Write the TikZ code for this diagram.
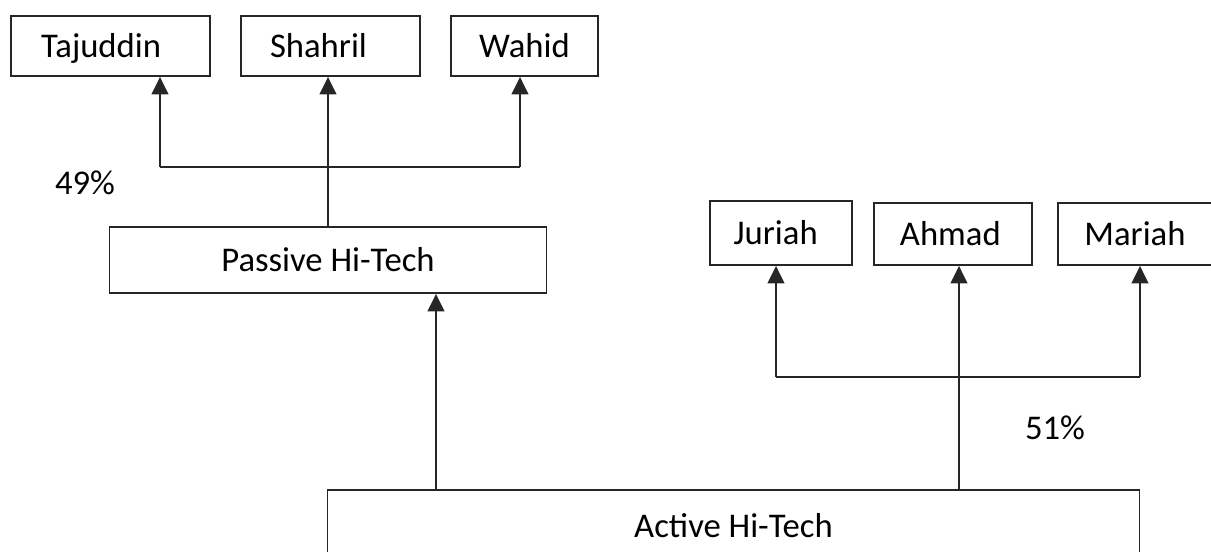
\documentclass[tikz,border=0pt]{standalone}
\usepackage{fontspec}
\setmainfont{Carlito}
\usetikzlibrary{arrows.meta}
\begin{document}
\begin{tikzpicture}[x=0.75pt,y=-0.75pt,
  font=\fontsize{26}{30}\selectfont,
  box/.style={draw=black!85, line width=1.4pt, inner sep=0pt, anchor=center,
              text height=18pt, text depth=0pt},
  link/.style={draw=black!85, line width=1.4pt},
  uparrow/.style={link, -{Triangle[length=13pt,width=12.5pt]}},
  pct/.style={inner sep=0pt}]
\useasboundingbox (0,0) rectangle (1211,552);
\clip (0,0) rectangle (1211,552);

% shareholders of the passive company
\node[box, minimum width=149.25pt, minimum height=45pt] (taj) at (110.5,46) {\hspace*{-14pt}Tajuddin};
\node[box, minimum width=134.25pt, minimum height=45pt] (sha) at (330.5,46) {\hspace*{-18pt}Shahril};
\node[box, minimum width=110.25pt, minimum height=45pt] (wah) at (524.5,46) {Wahid};

% shareholders of the active company
\node[box, minimum width=106.5pt, minimum height=48pt] (jur) at (781,233) {\hspace*{-8pt}Juriah};
\node[box, minimum width=118.5pt, minimum height=46.5pt] (ahm) at (953,234) {\hspace*{-4pt}Ahmad};
\node[box, minimum width=115.5pt, minimum height=46.5pt] (mar) at (1135,234) {Mariah};

% companies
\node[box, minimum width=327.75pt, minimum height=49.5pt] (pas) at (328,260) {Passive Hi-Tech};
\node[box, minimum width=609pt, minimum height=52.5pt] (act) at (733.5,525) {Active Hi-Tech};

% percentages
\node[pct] (p49) at (85,183) {49\%};
\node[pct] (p51) at (1055,428) {51\%};

% branch points
\coordinate (tl) at (160,167);
\coordinate (tr) at (520,167);
\coordinate (bl) at (776,377);
\coordinate (br) at (1140,377);
\coordinate (ap) at (436,490);
\coordinate (aa) at (959,490);

% passive company up to its shareholders
\draw[uparrow] (pas.north) -- (pas.north |- sha.south);
\draw[link] (tl) -- (tr);
\draw[uparrow] (tl) -- (tl |- taj.south);
\draw[uparrow] (tr) -- (tr |- wah.south);

% active company up to the passive company and its shareholders
\draw[uparrow] (ap) -- (ap |- pas.south);
\draw[uparrow] (aa) -- (aa |- ahm.south);
\draw[link] (bl) -- (br);
\draw[uparrow] (bl) -- (bl |- jur.south);
\draw[uparrow] (br) -- (br |- mar.south);
\end{tikzpicture}
\end{document}
